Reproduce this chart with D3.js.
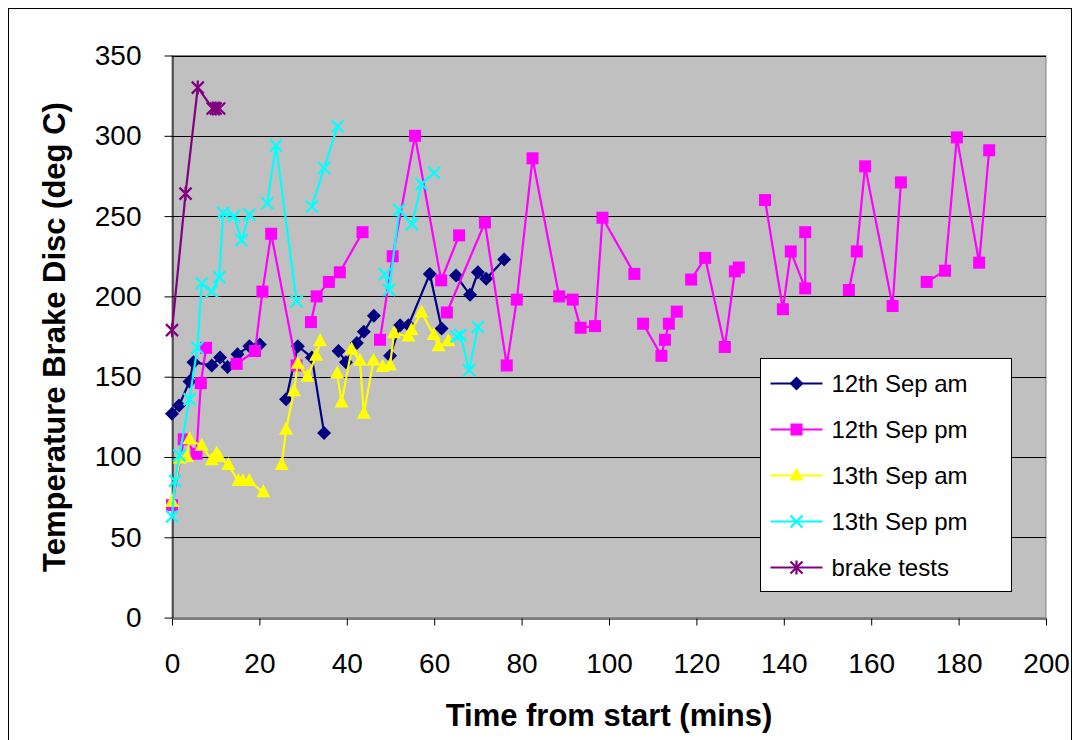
<!DOCTYPE html>
<html>
<head>
<meta charset="utf-8">
<script src="https://cdn.jsdelivr.net/npm/d3@7"></script>
<style>
  body { margin: 0; background: #fff; }
  text { font-family: Arial, "Liberation Sans", sans-serif; }
</style>
</head>
<body>
<svg class="rootSvg" width="1080" height="740"></svg>
<script>
// data, gaps in the series are null
var sep12amTime = [0, 1.6, 4, 4.9, 9.1, 11, 12.7, 15, 17.7, 20.1, null, 26.1, 28.8, 32, 34.8, null, 38.1, 39.8, 42.3, 43.9, 46.2, null, 49.9, 52.2, 54.1, 59, 61.7, null, 65, 68.2, 70, 71.9, 76];
var sep12amTemp = [127, 132, 147, 159, 157, 162, 156, 164, 169, 170, null, 136, 169, 162, 115, null, 166, 159, 171, 178, 188, null, 163, 182, 182, 214, 180, null, 213, 201, 215, 211, 223];

var sep12pmTime = [0, 2.7, 5.6, 6.6, 7.8, null, 14.8, 19, 20.7, 22.7, 28.5, null, 31.8, 33.1, 35.9, 38.4, 43.6, null, 47.6, 50.5, 55.6, 61.6, 65.7, null, 62.9, 71.6, 76.6, 78.9, 82.5, 88.6, 91.7, 93.5, 96.8, 98.5, 105.8, null, 107.8, 112, 112.8, 113.7, 115.5, null, 118.8, 122, 126.5, 128.8, 129.7, null, 135.7, 139.8, 141.6, 144.9, 144.9, null, 154.9, 156.7, 158.6, 164.9, 166.8, null, 172.7, 176.9, 179.6, 184.7, 187];
var sep12pmTemp = [70, 111, 102, 146, 168, null, 158, 166, 203, 239, 157, null, 184, 200, 209, 215, 240, null, 173, 225, 300, 210, 238, null, 190, 246, 157, 198, 286, 200, 198, 180.5, 181.5, 249, 214, null, 183, 163, 173, 183, 190.5, null, 210.5, 224, 168.5, 215.6, 218, null, 260, 192, 228, 205, 240, null, 204, 228, 281, 194, 271, null, 209, 216, 299, 221, 291];

var sep13amTime = [0, 1.8, 3.4, 4, 6.8, 9.1, 10.2, 10.8, 12.9, 15.2, 16.2, 17.7, 20.9, null, 25.1, 26.1, 27.9, 28.8, 31, 33, 33.9, null, 37.8, 38.8, 41.1, 43, 43.9, 46.1, 48.2, 49.9, 50.8, 54.1, 54.8, 57.1, 59.9, 61, 63.2];
var sep13amTemp = [72, 99, 100, 111, 107, 98, 102, 100, 95, 85, 85, 85, 78, null, 95, 117, 141, 158, 150, 163, 172, null, 152, 134, 167, 160, 127, 160, 156, 157, 177, 175, 179, 190, 176, 169, 172];

var sep13pmTime = [0, 0.7, 1.7, 4, 5.8, 6.8, 9.1, 10.8, 11.7, 14.2, 15.9, 17.7, null, 21.8, 23.8, 28.5, null, 32, 34.8, 37.9, null, 48.7, 49.7, 52, 54.9, 57.1, 60, null, 65.1, 66, 68, 70];
var sep13pmTemp = [63, 85, 101, 136, 168, 208, 203, 212, 252, 250, 235, 251, null, 258, 294, 197, null, 256, 280, 306, null, 214, 204, 254, 245, 270, 277, null, 175, 176, 154, 181];

var brakeTime = [0, 3.1, 5.9, 9.3, 10, 10.8];
var brakeTemp = [179, 264, 330, 317, 317, 317];

var seriesNames = ['12th Sep am', '12th Sep pm', '13th Sep am', '13th Sep pm', 'brake tests'];
var xTicks = [0, 20, 40, 60, 80, 100, 120, 140, 160, 180, 200];
var yTicks = [0, 50, 100, 150, 200, 250, 300, 350];

var series = [
    { name: seriesNames[0], time: sep12amTime, temp: sep12amTemp, color: '#000080', marker: 'diamond' },
    { name: seriesNames[1], time: sep12pmTime, temp: sep12pmTemp, color: '#FF00FF', marker: 'square' },
    { name: seriesNames[2], time: sep13amTime, temp: sep13amTemp, color: '#FFFF00', marker: 'triangle' },
    { name: seriesNames[3], time: sep13pmTime, temp: sep13pmTemp, color: '#00FFFF', marker: 'cross' },
    { name: seriesNames[4], time: brakeTime, temp: brakeTemp, color: '#800080', marker: 'star' }
];

var plot = { left: 172, right: 1046, top: 55.5, bottom: 617.6 };

var x = d3.scaleLinear().domain([0, 200]).range([plot.left, plot.right]);
var y = d3.scaleLinear().domain([0, 350]).range([plot.bottom, plot.top]);

var svg = d3.select('.rootSvg');

// chart area border
svg.append('rect')
    .attr('x', 8.5).attr('y', 8.5)
    .attr('width', 1063).attr('height', 760)
    .attr('fill', '#fff')
    .attr('stroke', '#000');

// plot area
svg.append('rect')
    .attr('x', plot.left).attr('y', plot.top)
    .attr('width', plot.right - plot.left)
    .attr('height', plot.bottom - plot.top)
    .attr('fill', '#C0C0C0')
    .attr('stroke', '#808080');

// gridlines
svg.append('g')
    .selectAll('line')
    .data(yTicks.slice(1))
    .enter()
    .append('line')
        .attr('x1', plot.left).attr('x2', plot.right)
        .attr('y1', function (d) { return Math.round(y(d)) + 0.5; })
        .attr('y2', function (d) { return Math.round(y(d)) + 0.5; })
        .attr('stroke', '#000');

// axes
var xAxis = d3.axisBottom(x).tickValues(xTicks).tickSizeOuter(0).tickSizeInner(7).tickPadding(25);
var yAxis = d3.axisLeft(y).tickValues(yTicks).tickSizeOuter(0).tickSizeInner(8).tickPadding(23);

var gx = svg.append('g')
    .attr('transform', 'translate(0,' + (Math.round(plot.bottom) + 0.5) + ')')
    .call(xAxis);
var gy = svg.append('g')
    .attr('transform', 'translate(' + (plot.left + 0.5) + ',0)')
    .call(yAxis);

[gx, gy].forEach(function (g) {
    g.selectAll('path, line').attr('stroke', '#000');
    g.selectAll('text')
        .attr('fill', '#000')
        .style('font-size', '28px')
        .style('font-family', 'Arial, "Liberation Sans", sans-serif');
});
gx.selectAll('text').attr('dy', '0.8em');

// axis titles
svg.append('text')
    .attr('x', 609).attr('y', 726)
    .attr('text-anchor', 'middle')
    .style('font-size', '31px')
    .style('font-weight', 'bold')
    .text('Time from start (mins)');

svg.append('text')
    .attr('transform', 'translate(65,337) rotate(-90)')
    .attr('text-anchor', 'middle')
    .style('font-size', '31px')
    .style('font-weight', 'bold')
    .text('Temperature Brake Disc (deg C)');

// markers
function markerPath(type) {
    switch (type) {
        case 'diamond':
            return 'M0,-7L7,0L0,7L-7,0Z';
        case 'square':
            return 'M-6,-6H6V6H-6Z';
        case 'triangle':
            return 'M0,-8L7,5L-7,5Z';
        case 'cross':
            return 'M-6,-6L6,6M-6,6L6,-6';
        case 'star':
            return 'M-6,-6L6,6M-6,6L6,-6M0,-7V7';
    }
}

function isFilled(type) {
    return type === 'diamond' || type === 'square' || type === 'triangle';
}

var line = d3.line()
    .defined(function (d) { return d[0] !== null && d[1] !== null; })
    .x(function (d) { return x(d[0]); })
    .y(function (d) { return y(d[1]); });

var seriesLayer = svg.append('g');

series.forEach(function (s) {
    var pts = s.time.map(function (t, i) { return [t, s.temp[i]]; });

    seriesLayer.append('path')
        .attr('d', line(pts))
        .attr('fill', 'none')
        .attr('stroke', s.color)
        .attr('stroke-width', 2.2);

    seriesLayer.append('g')
        .selectAll('path')
        .data(pts.filter(function (d) { return d[0] !== null; }))
        .enter()
        .append('path')
            .attr('transform', function (d) { return 'translate(' + x(d[0]) + ',' + y(d[1]) + ')'; })
            .attr('d', markerPath(s.marker))
            .attr('fill', isFilled(s.marker) ? s.color : 'none')
            .attr('stroke', s.color)
            .attr('stroke-width', isFilled(s.marker) ? 0 : 2.2);
});

// legend
var legend = svg.append('g').attr('transform', 'translate(760.5,358.5)');

legend.append('rect')
    .attr('width', 251).attr('height', 233)
    .attr('fill', '#fff')
    .attr('stroke', '#000');

var item = legend.selectAll('.item')
    .data(series)
    .enter()
    .append('g')
        .attr('class', 'item')
        .attr('transform', function (d, i) { return 'translate(0,' + (25 + i * 46) + ')'; });

item.append('line')
    .attr('x1', 10).attr('x2', 62)
    .attr('stroke', function (d) { return d.color; })
    .attr('stroke-width', 2.2);

item.append('path')
    .attr('transform', 'translate(36,0)')
    .attr('d', function (d) { return markerPath(d.marker); })
    .attr('fill', function (d) { return isFilled(d.marker) ? d.color : 'none'; })
    .attr('stroke', function (d) { return d.color; })
    .attr('stroke-width', function (d) { return isFilled(d.marker) ? 0 : 2.2; });

item.append('text')
    .attr('x', 71)
    .attr('dy', '0.35em')
    .style('font-size', '24px')
    .text(function (d) { return d.name; });
</script>
</body>
</html>
